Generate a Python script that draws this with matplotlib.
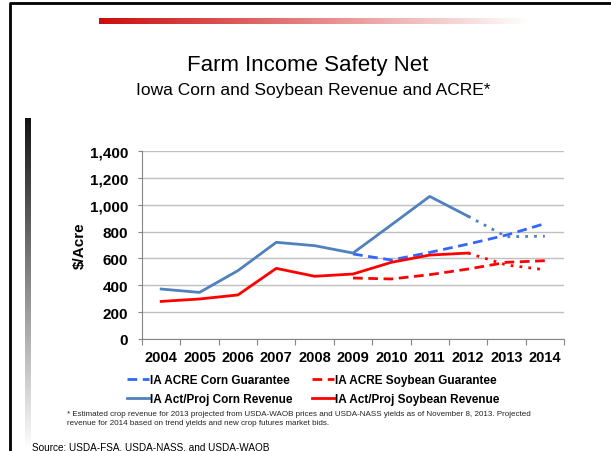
import numpy as np
import matplotlib
matplotlib.use('Agg')
import matplotlib.pyplot as plt
from matplotlib.ticker import FixedLocator, FuncFormatter

plt.rcParams['font.family'] = ['Liberation Sans', 'DejaVu Sans']

# Данные (оценка по картинке), $/acre
years = ['2004', '2005', '2006', '2007', '2008', '2009', '2010', '2011', '2012', '2013', '2014']
corn_rev = [372, 347, 509, 720, 695, 640, 850, 1062, 914]             # 2004-2012, факт
corn_rev_proj = [914, 762, 765]                                       # 2012-2014, прогноз
corn_guar = [633, 588, 645, 707, 774, 859]                            # 2009-2014
soy_rev = [280, 298, 328, 526, 467, 484, 571, 625, 640]               # 2004-2012
soy_rev_proj = [640, 551, 516]                                        # 2012-2014
soy_guar = [454, 447, 479, 521, 571, 583]                             # 2009-2014

x = np.arange(len(years))

fig = plt.figure(figsize=(6.11, 4.52), dpi=100)

# Фон слайда: рамка и градиентные полосы
bg = fig.add_axes([0, 0, 1, 1])
bg.set_xlim(0, 611)
bg.set_ylim(452, 0)
bg.axis('off')
red_grad = np.ones((1, 256, 3))
red_grad[0, :, 0] = np.linspace(0.8, 1, 256)
red_grad[0, :, 1] = np.linspace(0.05, 1, 256)
red_grad[0, :, 2] = np.linspace(0.05, 1, 256)
bg.imshow(red_grad, extent=(99, 530, 25, 19), aspect='auto')
black_grad = np.linspace(0.08, 1, 256).reshape(-1, 1)
bg.imshow(black_grad, extent=(25, 31, 452, 119), aspect='auto', cmap='gray',
          vmin=0, vmax=1, origin='upper')
bg.plot([10, 10, 640], [470, 4, 4], color='black', lw=2, clip_on=False)

fig.text(0.503, 0.856, 'Farm Income Safety Net', ha='center', va='center', fontsize=16)
fig.text(0.513, 0.800, 'Iowa Corn and Soybean Revenue and ACRE*', ha='center', va='center', fontsize=12.5)

ax = fig.add_axes([142 / 611, 1 - 340 / 452, 422 / 611, 188 / 452])
ax.patch.set_alpha(0)

blue = '#4F81BD'
blue2 = '#3366FF'
red = '#FF0000'

ax.plot(x[5:], corn_guar, color=blue2, lw=2, ls=(0, (3.5, 2)), label='IA ACRE Corn Guarantee')
ax.plot(x[:9], corn_rev, color=blue, lw=2, label='IA Act/Proj Corn Revenue')
ax.plot(x[8:], corn_rev_proj, color=blue, lw=2, ls=(0, (1, 2.2)))
ax.plot(x[5:], soy_guar, color=red, lw=2, ls=(0, (3.5, 2)), label='IA ACRE Soybean Guarantee')
ax.plot(x[:9], soy_rev, color=red, lw=2, label='IA Act/Proj Soybean Revenue')
ax.plot(x[8:], soy_rev_proj, color=red, lw=2, ls=(0, (1, 2.2)))

ax.set_xlim(-0.5, len(years) - 0.5)
ax.set_ylim(0, 1400)
ax.set_yticks(np.arange(0, 1401, 200))
ax.yaxis.set_major_formatter(FuncFormatter(lambda v, p: f'{int(v):,}'))
ax.grid(axis='y', color='#BFBFBF', lw=1)
ax.set_axisbelow(True)

ax.xaxis.set_major_locator(FixedLocator(np.arange(-0.5, len(years), 1)))
ax.xaxis.set_minor_locator(FixedLocator(x))
ax.set_xticklabels([], minor=False)
ax.set_xticklabels(years, minor=True)
ax.tick_params(axis='x', which='major', length=4, color='#868686', direction='out')
ax.tick_params(axis='x', which='minor', length=0, pad=8, labelsize=10.5)
ax.tick_params(axis='y', length=3, color='#868686', labelsize=11, pad=7)
for lab in ax.get_xticklabels(minor=True) + ax.get_yticklabels():
    lab.set_fontweight('bold')

for side in ['top', 'right']:
    ax.spines[side].set_visible(False)
ax.spines['left'].set_color('#868686')
ax.spines['bottom'].set_color('#868686')

ax.set_ylabel('$/Acre', fontsize=11, fontweight='bold', labelpad=2)

ax.legend(loc='upper left', bbox_to_anchor=(-0.06, -0.131), ncol=2, frameon=False,
          prop={'weight': 'bold', 'size': 8.5}, handlelength=1.8, handletextpad=0.15,
          columnspacing=1.65, labelspacing=0.55)

fig.text(0.11, 0.073, '* Estimated crop revenue for 2013 projected from USDA-WAOB prices and USDA-NASS yields as of November 8, 2013. Projected\n'
         'revenue for 2014 based on trend yields and new crop futures market bids.',
         fontsize=5.8, va='center', ha='left', color='#222222', linespacing=1.4)
fig.text(0.053, 0.011, 'Source: USDA-FSA, USDA-NASS, and USDA-WAOB', fontsize=7.2, va='center', ha='left')

fig.savefig('out.png', dpi=100)
